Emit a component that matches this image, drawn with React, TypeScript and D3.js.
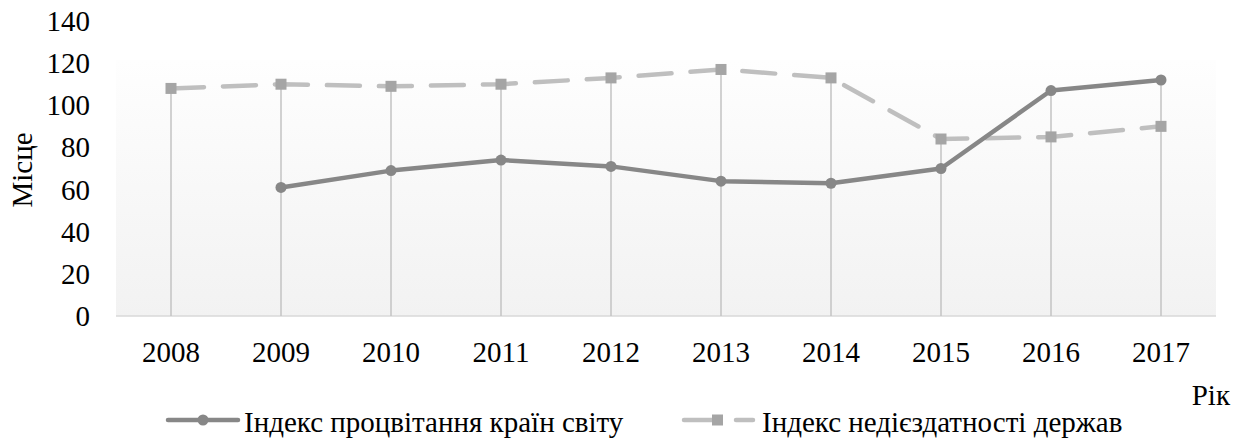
import React from "react";
import { scaleBand, scaleLinear, line } from "d3";

const years = ["2008", "2009", "2010", "2011", "2012", "2013", "2014", "2015", "2016", "2017"];
// індекс процвітання (2008 немає даних)
const prosperity: (number | null)[] = [null, 61, 69, 74, 71, 64, 63, 70, 107, 112];
// індекс недієздатності
const fragility: number[] = [108, 110, 109, 110, 113, 117, 113, 84, 85, 90];
const yTicks = [0, 20, 40, 60, 80, 100, 120, 140];

const seriesNames = ["Індекс процвітання країн світу", "Індекс недієздатності держав"];
const axisTitleY = "Місце";
const axisTitleX = "Рік";

const W = 1243;
const H = 440;
const FS = 29;
const FONT = "Liberation Serif";

export default function App() {
  const x = scaleBand<string>().domain(years).range([116, 1216]);
  const y = scaleLinear().domain([0, 140]).range([316, 21]);
  const cx = (yr: string) => (x(yr) as number) + x.bandwidth() / 2;

  const pts1 = years
    .map((yr, i) => ({ yr, v: prosperity[i] }))
    .filter((d) => d.v !== null) as { yr: string; v: number }[];
  const pts2 = years.map((yr, i) => ({ yr, v: fragility[i] }));

  const mkLine = line<{ yr: string; v: number }>()
    .x((d) => cx(d.yr))
    .y((d) => y(d.v));

  const c1 = "#878787";
  const c2 = "#bfbfbf";
  const m2 = "#a5a5a5";

  return (
    <svg width={W} height={H} style={{ position: "absolute", left: 0, top: 0 }}>
      <defs>
        <linearGradient id="bg" x1="0" y1="0" x2="0" y2="1">
          <stop offset="0" stopColor="#fefefe" />
          <stop offset="1" stopColor="#f2f2f2" />
        </linearGradient>
      </defs>
      <rect x={0} y={0} width={W} height={H} fill="#fff" />
      <rect x={116} y={60} width={1100} height={256} fill="url(#bg)" />

      {/* базова лінія */}
      <line x1={116} x2={1216} y1={y(0)} y2={y(0)} stroke="#d9d9d9" strokeWidth={1.5} />

      {/* лінії падіння */}
      {years.map((yr, i) => {
        const top = Math.max(fragility[i], prosperity[i] ?? 0);
        return (
          <line
            key={"d" + yr}
            x1={cx(yr)}
            x2={cx(yr)}
            y1={y(top)}
            y2={y(0)}
            stroke="#c3c3c3"
            strokeWidth={1.5}
          />
        );
      })}

      {/* підписи осі y */}
      <text fontFamily={FONT} fontSize={FS} fill="#000" textAnchor="end">
        {yTicks.map((t) => (
          <tspan key={"y" + t} x={90} y={y(t) + 10}>
            {t}
          </tspan>
        ))}
      </text>
      {/* підписи осі x */}
      <text fontFamily={FONT} fontSize={FS} fill="#000" textAnchor="middle">
        {years.map((yr) => (
          <tspan key={"x" + yr} x={cx(yr)} y={362}>
            {yr}
          </tspan>
        ))}
      </text>

      <text
        fontFamily={FONT}
        fontSize={FS}
        fill="#000"
        transform="translate(32,170) rotate(-90)"
        textAnchor="middle"
      >
        {axisTitleY}
      </text>

      {/* серія 2 */}
      <path
        d={mkLine(pts2) || ""}
        fill="none"
        stroke={c2}
        strokeWidth={4.5}
        strokeDasharray="33 19"
        strokeLinecap="round"
      />
      {pts2.map((d) => (
        <rect key={"s" + d.yr} x={cx(d.yr) - 5.5} y={y(d.v) - 5.5} width={11} height={11} fill={m2} />
      ))}

      {/* серія 1 */}
      <path d={mkLine(pts1) || ""} fill="none" stroke={c1} strokeWidth={4.5} strokeLinejoin="round" />
      {pts1.map((d) => (
        <circle key={"c" + d.yr} cx={cx(d.yr)} cy={y(d.v)} r={5.5} fill={c1} />
      ))}

      {/* легенда */}
      <line x1={168} x2={238} y1={420} y2={420} stroke={c1} strokeWidth={4.5} strokeLinecap="round" />
      <circle cx={203} cy={420} r={5.5} fill={c1} />
      <line
        x1={684}
        x2={753}
        y1={420}
        y2={420}
        stroke={c2}
        strokeWidth={4.5}
        strokeDasharray="33 19"
        strokeLinecap="round"
      />
      <rect x={712} y={414.5} width={11} height={11} fill={m2} />
      <text fontFamily={FONT} fontSize={FS} fill="#000">
        <tspan x={244} y={432}>
          {seriesNames[0]}
        </tspan>
        <tspan x={762} y={432}>
          {seriesNames[1]}
        </tspan>
        <tspan x={1230} y={405} textAnchor="end">
          {axisTitleX}
        </tspan>
      </text>
    </svg>
  );
}
